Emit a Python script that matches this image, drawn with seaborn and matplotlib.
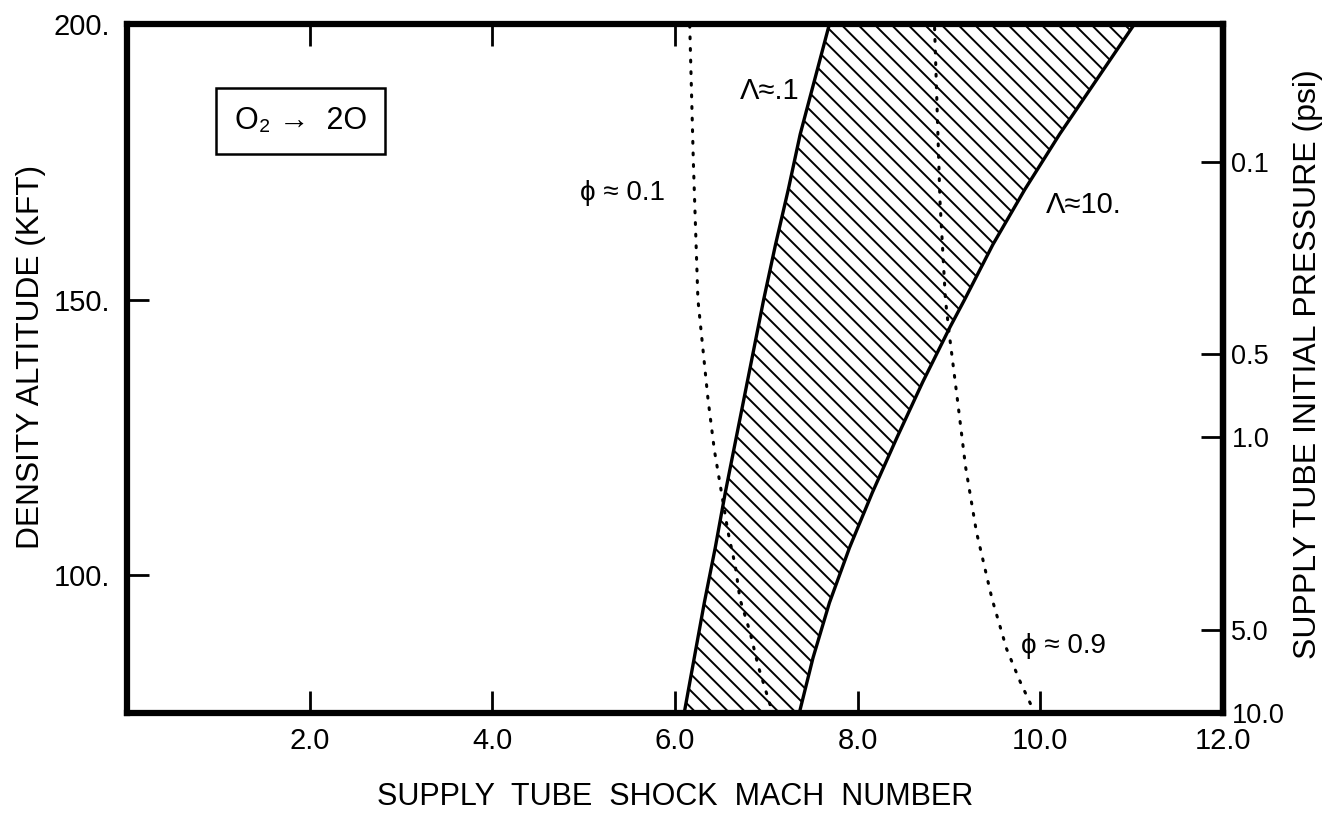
import numpy as np
import matplotlib
matplotlib.use("Agg")
import matplotlib.pyplot as plt
import seaborn as sns

# ---------------- data ----------------
# hatched band boundaries (altitude kft -> shock Mach number)
band_alt = [75, 85, 95, 105, 115, 125, 135, 145, 150, 160, 170, 180, 190, 200]
lam01_mach = [6.10, 6.21, 6.32, 6.44, 6.55, 6.67, 6.79, 6.91, 6.97, 7.10, 7.24, 7.37, 7.53, 7.69]
lam10_mach = [7.36, 7.51, 7.69, 7.91, 8.16, 8.43, 8.71, 9.01, 9.17, 9.48, 9.83, 10.21, 10.62, 11.03]

# dotted phi curves
phi01_alt = [76.5, 83.5, 89.7, 95.7, 101.6, 107.8, 113.8, 122.7, 132, 150, 175, 200]
phi01_mach = [7.04, 6.91, 6.82, 6.71, 6.66, 6.58, 6.52, 6.43, 6.36, 6.25, 6.20, 6.16]
phi09_alt = [76.7, 80.6, 86.6, 95.7, 107.8, 119.7, 132, 144, 150, 168, 200]
phi09_mach = [9.89, 9.78, 9.63, 9.47, 9.30, 9.18, 9.09, 9.00, 8.96, 8.90, 8.84]

# axes ticks
x_ticks = [2, 4, 6, 8, 10, 12]
x_labels = ["2.0", "4.0", "6.0", "8.0", "10.0", "12.0"]
y_ticks = [100, 150, 200]
y_labels = ["100.", "150.", "200."]
p_ticks = [0.1, 0.5, 1.0, 5.0, 10.0]
p_labels = ["0.1", "0.5", "1.0", "5.0", "10.0"]

# pressure <-> altitude relation of the right axis (log scale, 50 kft per decade)
P_REF_ALT = 125.0
KFT_PER_DECADE = 50.0


def alt2p(a):
    return 10.0 ** ((P_REF_ALT - np.asarray(a, dtype=float)) / KFT_PER_DECADE)


def p2alt(p):
    p = np.clip(np.asarray(p, dtype=float), 1e-12, None)
    return P_REF_ALT - KFT_PER_DECADE * np.log10(p)


# ---------------- styling ----------------
sns.set_theme(style="white")
plt.rcParams["font.family"] = ["Liberation Sans", "DejaVu Sans"]
plt.rcParams["hatch.linewidth"] = 1.4
plt.rcParams["hatch.color"] = "black"

fig = plt.figure(figsize=(13.36, 8.23), dpi=100)
ax = fig.add_axes([0.0951, 0.1337, 0.8204, 0.8372])

# hatched band
ax.fill_betweenx(band_alt, lam01_mach, lam10_mach, facecolor="white",
                 edgecolor="black", hatch="\\\\", linewidth=0, zorder=1)

# boundary curves
sns.lineplot(x=lam01_mach, y=band_alt, sort=False, estimator=None, color="black",
             linewidth=2.4, ax=ax, zorder=3)
sns.lineplot(x=lam10_mach, y=band_alt, sort=False, estimator=None, color="black",
             linewidth=2.4, ax=ax, zorder=3)

# dotted curves
for xm, ya in [(phi01_mach, phi01_alt), (phi09_mach, phi09_alt)]:
    sns.lineplot(x=xm, y=ya, sort=False, estimator=None, color="black",
                 linewidth=2.2, linestyle=(0, (0.6, 3.2)), ax=ax, zorder=4,
                 dash_capstyle="round")

ax.set_xlim(0, 12)
ax.set_ylim(75, 200)

ax.set_xticks(x_ticks)
ax.set_xticklabels(x_labels)
ax.set_yticks(y_ticks)
ax.set_yticklabels(y_labels)

ax.tick_params(axis="x", which="major", direction="in", length=16, width=2,
               top=True, bottom=True, labelsize=21, pad=10, color="black",
               labelcolor="black")
ax.tick_params(axis="y", which="major", direction="in", length=16, width=2,
               left=True, right=False, labelsize=21, pad=12, color="black",
               labelcolor="black")

for s in ax.spines.values():
    s.set_visible(True)
    s.set_color("black")
    s.set_linewidth(4.5)

# right pressure axis
sec = ax.secondary_yaxis("right", functions=(alt2p, p2alt))
sec.set_yticks(p_ticks)
sec.set_yticklabels(p_labels)
sec.tick_params(axis="y", which="major", direction="in", length=16, width=2,
                labelsize=19.5, pad=6, color="black", labelcolor="black")
sec.tick_params(axis="y", which="minor", length=0)
sec.spines["right"].set_linewidth(4.5)
sec.spines["right"].set_color("black")

# axis labels
ax.set_xlabel("SUPPLY  TUBE  SHOCK  MACH  NUMBER", fontsize=22, color="black")
ax.xaxis.set_label_coords(0.5, -0.100)
ax.set_ylabel("DENSITY ALTITUDE (KFT)", fontsize=22.8, color="black")
ax.yaxis.set_label_coords(-0.074, 0.516)
sec.set_ylabel("SUPPLY TUBE INITIAL PRESSURE (psi)", fontsize=23, color="black")
sec.yaxis.set_label_coords(1.064, 0.507, transform=ax.transAxes)

# annotations
ax.text(1.90, 182.4, "O\u2082 \u2192  2O", fontsize=22, ha="center", va="center",
        color="black",
        bbox=dict(boxstyle="square,pad=0.6", facecolor="white",
                  edgecolor="black", linewidth=1.8), zorder=5)
ax.text(7.04, 187.9, "\u039b\u2248.1", fontsize=21, ha="center", va="center",
        color="black", zorder=5)
ax.text(5.42, 169.3, "\u03d5 \u2248 0.1", fontsize=20, ha="center", va="center",
        color="black", zorder=5)
ax.text(10.47, 167.2, "\u039b\u224810.", fontsize=21, ha="center", va="center",
        color="black", zorder=5)
ax.text(10.25, 87.1, "\u03d5 \u2248 0.9", fontsize=20, ha="center", va="center",
        color="black", zorder=5)

fig.savefig("out.png", dpi=100, facecolor="white")
